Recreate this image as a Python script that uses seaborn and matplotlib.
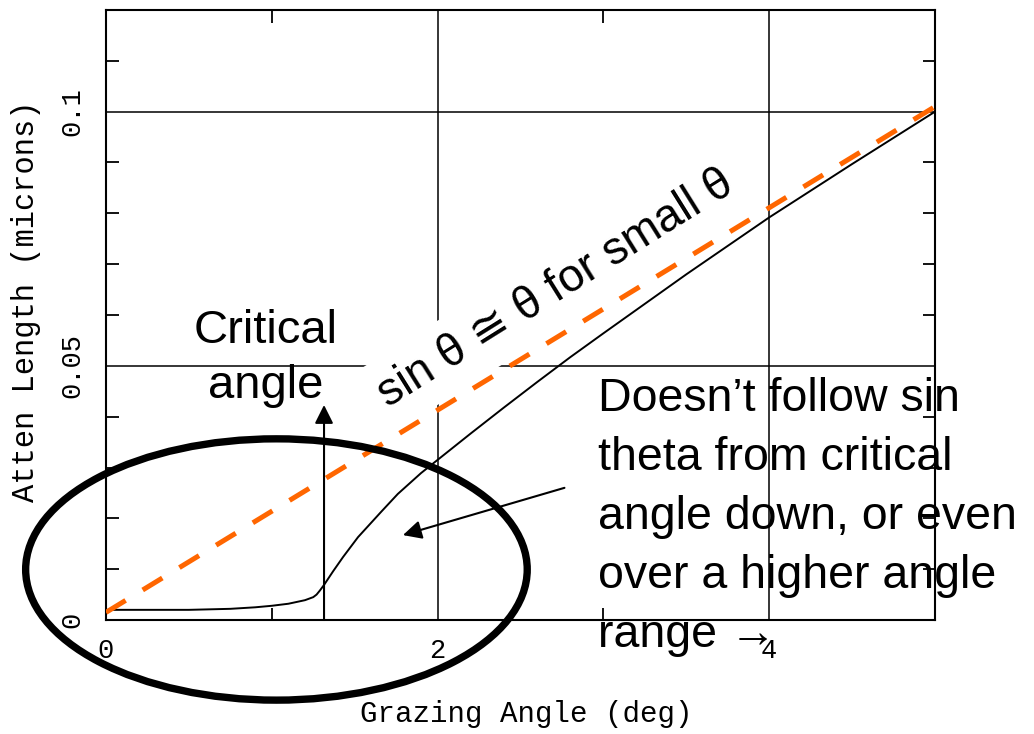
import matplotlib
matplotlib.use("Agg")
import matplotlib.pyplot as plt
from matplotlib.patches import Ellipse
from matplotlib.ticker import MultipleLocator
import seaborn as sns

# Attenuation length (microns) versus grazing angle (deg)
angle_deg = [0.0, 0.25, 0.5, 0.75, 0.9, 1.0, 1.1, 1.2, 1.25, 1.27, 1.29, 1.315,
             1.37, 1.43, 1.52, 1.66, 1.76, 1.9, 2.0, 2.2, 2.4, 2.6, 2.8, 3.0,
             3.5, 4.0, 4.5, 5.0]
atten_um = [0.002, 0.002, 0.002, 0.0022, 0.0025, 0.0028, 0.0032, 0.0039,
            0.0045, 0.005, 0.0058, 0.0069, 0.0096, 0.0124, 0.0163, 0.0213,
            0.0248, 0.0289, 0.0315, 0.0367, 0.0418, 0.0468, 0.0517, 0.0564,
            0.068, 0.0792, 0.0897, 0.1]

# Straight line for the small-angle approximation sin(theta) ~ theta
linear_angle = [0.0, 5.0]
linear_atten = [0.0015, 0.101]

critical_angle = 1.315

x_ticks = [0, 2, 4]
x_tick_labels = ["0", "2", "4"]
y_ticks = [0, 0.05, 0.1]
y_tick_labels = ["0", "0.05", "0.1"]

sns.set_theme(style="white")
plt.rcParams["font.family"] = ["Liberation Sans", "DejaVu Sans"]
mono = ["Liberation Mono", "DejaVu Sans Mono"]

fig = plt.figure(figsize=(10.34, 7.34), dpi=100)
ax = fig.add_axes([0.1025, 0.1553, 0.8018, 0.8311])

sns.lineplot(x=angle_deg, y=atten_um, ax=ax, color="black", lw=1.4, zorder=3)
sns.lineplot(x=linear_angle, y=linear_atten, ax=ax, color="#FF6600", lw=3.6,
             linestyle=(0, (4.6, 4.0)), zorder=3)

ax.set_xlim(0, 5)
ax.set_ylim(0, 0.12)
ax.set_xticks(x_ticks)
ax.set_xticklabels(x_tick_labels, fontfamily=mono, fontsize=19.5)
ax.set_yticks(y_ticks)
ax.set_yticklabels(y_tick_labels, fontfamily=mono, fontsize=19.5,
                   rotation=90, va="center")
ax.xaxis.set_minor_locator(MultipleLocator(1))
ax.yaxis.set_minor_locator(MultipleLocator(0.01))
ax.tick_params(which="minor", direction="in", length=9, width=1.3,
               color="black", top=True, right=True, bottom=True, left=True)
ax.tick_params(which="major", length=0)
ax.tick_params(axis="x", which="major", pad=13, labelcolor="black")
ax.tick_params(axis="y", which="major", pad=15, labelcolor="black")

ax.grid(True, which="major", color="black", lw=1.1)
ax.set_axisbelow(True)
for s in ax.spines.values():
    s.set_color("black")
    s.set_linewidth(1.5)

ax.set_xlabel("Grazing Angle (deg)", fontfamily=mono, fontsize=21, color="black")
ax.xaxis.set_label_coords(0.5066, -0.131)
ax.set_ylabel("Atten Length (microns)", fontfamily=mono, fontsize=22, color="black")
ax.yaxis.set_label_coords(-0.0784, 0.523)

# Annotations
ax.text(0.962, 0.0437, "Critical\nangle", ha="center", va="baseline",
        multialignment="center", fontsize=34, linespacing=1.33, color="black",
        zorder=4)
ax.annotate("", xy=(critical_angle, 0.0423), xytext=(critical_angle, 0.0),
            arrowprops=dict(arrowstyle="-|>", lw=1.5, color="black",
                            shrinkA=0, shrinkB=0, mutation_scale=28),
            zorder=4)

ax.text(1.70, 0.0417, "sin θ ≅ θ for small θ", rotation=32,
        rotation_mode="anchor", ha="left", va="baseline", fontsize=33,
        color="black", zorder=2,
        bbox=dict(boxstyle="square,pad=0.3", fc="white", ec="none"))

ax.text(2.97, -0.0053,
        "Doesn\u2019t follow sin\ntheta from critical\nangle down, or even\n"
        "over a higher angle\nrange \u2192",
        ha="left", va="baseline", fontsize=33.5, linespacing=1.44,
        color="black", zorder=4)
ax.annotate("", xy=(1.791, 0.0167), xytext=(2.765, 0.026),
            arrowprops=dict(arrowstyle="-|>", lw=1.5, color="black",
                            shrinkA=0, shrinkB=0, mutation_scale=28),
            zorder=4)

ax.add_patch(Ellipse((1.028, 0.00994), width=3.025, height=0.0514,
                     fill=False, ec="black", lw=5.3, clip_on=False, zorder=5))

fig.savefig("out.png", dpi=100)
